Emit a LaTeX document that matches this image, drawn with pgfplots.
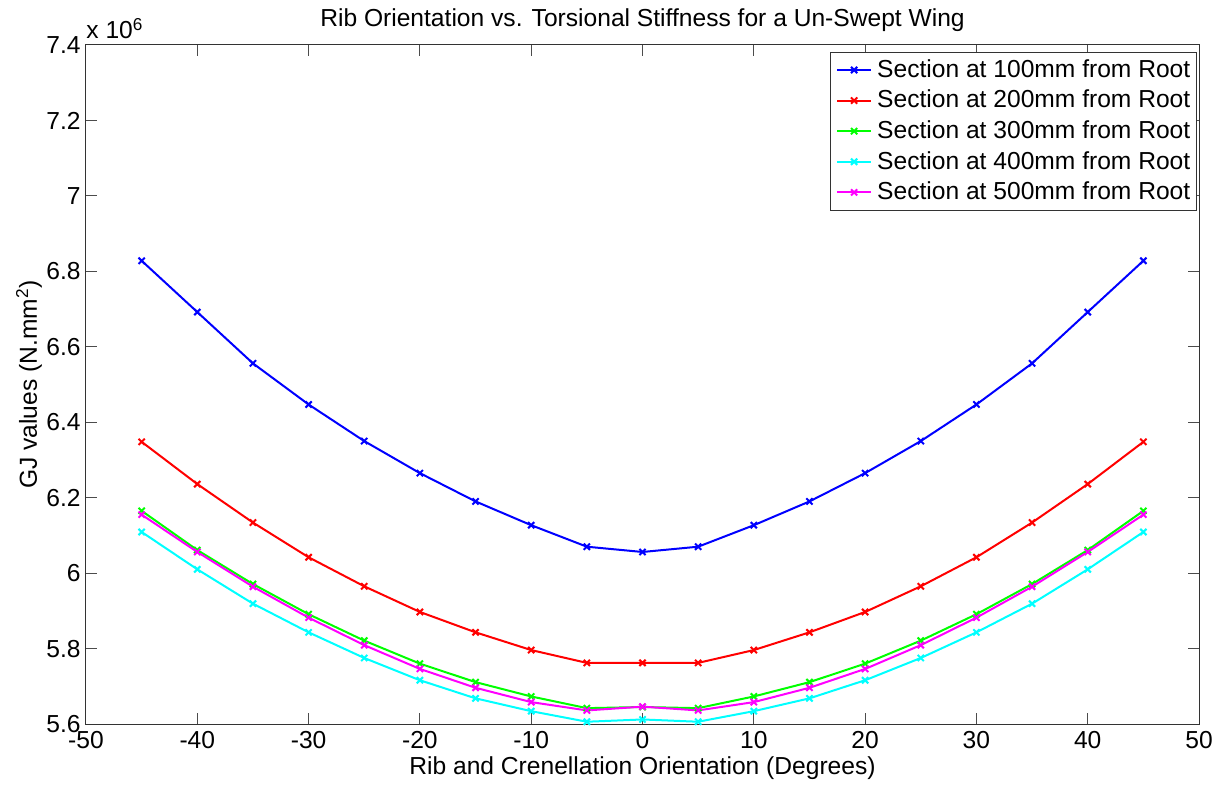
\documentclass[border=0pt]{standalone}
\usepackage{fontspec}
\setmainfont{Liberation Sans}
\usepackage{pgfplots}
\usepackage{pgfplotstable}
\pgfplotsset{compat=1.18}

% GJ values (x 10^6 N.mm^2) against rib / crenellation orientation
\pgfplotstableread{
ang   s100   s200   s300   s400   s500
-45   6.828  6.348  6.165  6.109  6.155
-40   6.692  6.236  6.061  6.010  6.056
-35   6.556  6.134  5.971  5.919  5.964
-30   6.447  6.042  5.891  5.843  5.882
-25   6.350  5.965  5.821  5.775  5.809
-20   6.265  5.897  5.760  5.716  5.746
-15   6.190  5.843  5.711  5.668  5.696
-10   6.127  5.796  5.673  5.634  5.658
-5    6.070  5.762  5.642  5.606  5.636
0     6.056  5.762  5.645  5.612  5.646
5     6.070  5.762  5.642  5.606  5.636
10    6.127  5.796  5.673  5.634  5.658
15    6.190  5.843  5.711  5.668  5.696
20    6.265  5.897  5.760  5.716  5.746
25    6.350  5.965  5.821  5.775  5.809
30    6.447  6.042  5.891  5.843  5.882
35    6.556  6.134  5.971  5.919  5.964
40    6.692  6.236  6.061  6.010  6.056
45    6.828  6.348  6.165  6.109  6.155
}\gjdata

\definecolor{mblue}{RGB}{0,0,255}
\definecolor{mred}{RGB}{255,0,0}
\definecolor{mgreen}{RGB}{0,255,0}
\definecolor{mcyan}{RGB}{0,255,255}
\definecolor{mmagenta}{RGB}{255,0,255}

\begin{document}
\fontsize{12.3}{14.8}\selectfont
\begin{tikzpicture}
\begin{axis}[
  scale only axis,
  width=556.5pt, height=339.5pt,
  xmin=-50, xmax=50, ymin=5.6, ymax=7.4,
  xtick={-50,-40,...,50},
  ytick={5.6,5.8,6,6.2,6.4,6.6,6.8,7,7.2,7.4},
  /pgf/number format/assume math mode=true,
  tick align=inside,
  major tick length=5.5pt,
  axis line style={black!80, line width=0.5pt},
  every tick/.style={black!70, line width=0.5pt},
  xticklabel style={inner sep=0pt, yshift=-3.5pt},
  yticklabel style={inner sep=0pt, xshift=-2.5pt},
  title={Rib Orientation vs. Torsional Stiffness for a Un-Swept Wing},
  every axis title/.style={at={(rel axis cs:0.5,1)}, anchor=base, yshift=9pt, inner sep=0pt},
  xlabel={Rib and Crenellation Orientation (Degrees)},
  every axis x label/.style={at={(rel axis cs:0.5,0)}, anchor=base, yshift=-25pt, inner sep=0pt},
  ylabel={GJ values (N.mm\textsuperscript{2})},
  every axis y label/.style={at={([xshift=-28.5pt]rel axis cs:0,0.5)}, rotate=90, anchor=center, inner sep=0pt},
  legend cell align=left,
  legend style={at={(rel axis cs:0.998,0.99)}, anchor=north east,
    draw=black!80, line width=0.5pt, fill=white,
    inner xsep=3pt, inner ysep=1.2pt, row sep=0pt,
    nodes={inner sep=0pt, text height=11.3pt, text depth=4pt},
    /tikz/every odd column/.append style={column sep=2.5pt}},
  every axis plot/.append style={line width=1pt, mark=x, mark size=2.2pt},
]
\addplot[mblue]    table[x=ang, y=s100] {\gjdata};
\addplot[mred]     table[x=ang, y=s200] {\gjdata};
\addplot[mgreen]   table[x=ang, y=s300] {\gjdata};
\addplot[mcyan]    table[x=ang, y=s400] {\gjdata};
\addplot[mmagenta] table[x=ang, y=s500] {\gjdata};
\legend{Section at 100mm from Root, Section at 200mm from Root,
        Section at 300mm from Root, Section at 400mm from Root,
        Section at 500mm from Root}
\coordinate (boxsw) at (rel axis cs:0,0);
\coordinate (boxne) at (rel axis cs:1,1);
\coordinate (boxnw) at (rel axis cs:0,1);
\end{axis}
% common scale factor of the y axis
\node[anchor=base west, inner sep=0pt] at ([yshift=3pt]boxnw) {x 10\textsuperscript{6}};
\pgfresetboundingbox
\path ([shift={(-43pt,-31pt)}]boxsw) rectangle ([shift={(13pt,22.5pt)}]boxne);
\end{tikzpicture}
\end{document}
